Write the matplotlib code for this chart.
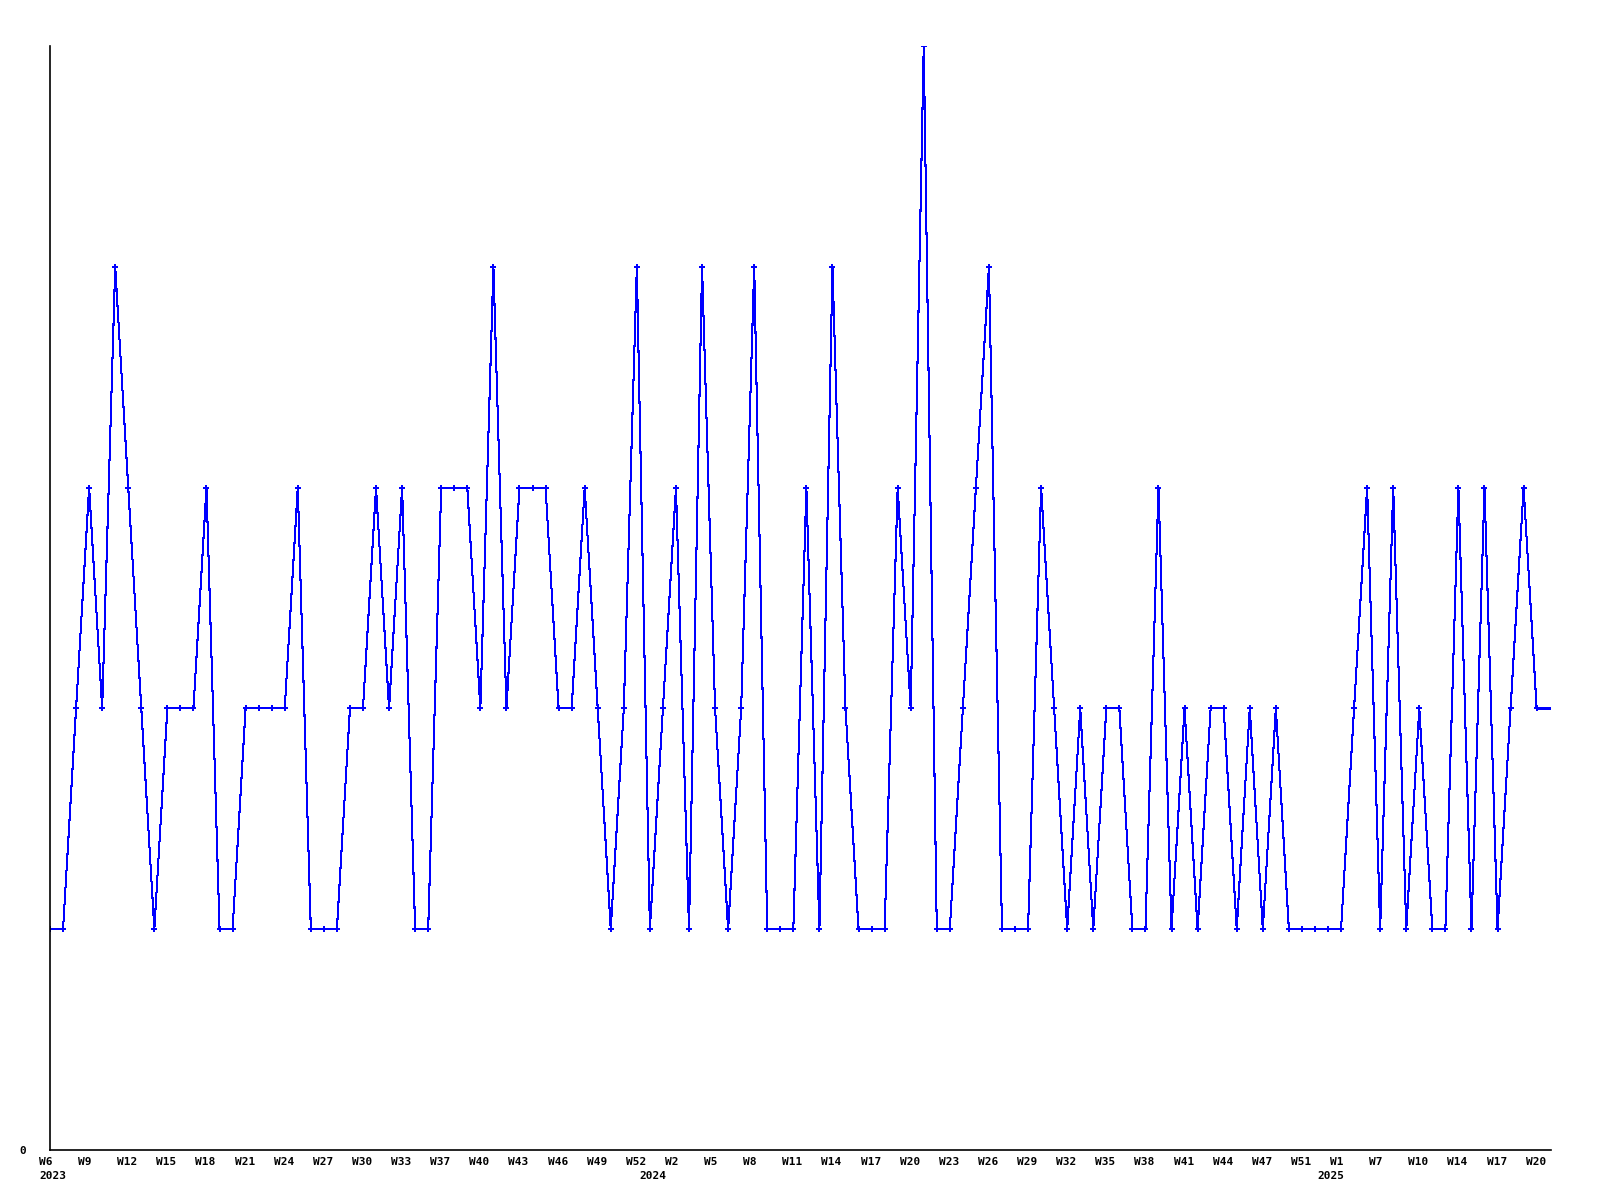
import numpy as np
import matplotlib
matplotlib.use("Agg")
import matplotlib.pyplot as plt
from matplotlib.transforms import blended_transform_factory, offset_copy

# weekly values, one per point (2023 W6 .. 2025 W21)
values = [1, 1, 2, 3, 2, 4, 3, 2, 1, 2, 2, 2, 3, 1, 1, 2, 2, 2, 2, 3,
          1, 1, 1, 2, 2, 3, 2, 3, 1, 1, 3, 3, 3, 2, 4, 2, 3, 3, 3, 2,
          2, 3, 2, 1, 2, 4, 1, 2, 3, 1, 4, 2, 1, 2, 4, 1, 1, 1, 3, 1,
          4, 2, 1, 1, 1, 3, 2, 5, 1, 1, 2, 3, 4, 1, 1, 1, 3, 2, 1, 2,
          1, 2, 2, 1, 1, 3, 1, 2, 1, 2, 2, 1, 2, 1, 2, 1, 1, 1, 1, 1,
          2, 3, 1, 3, 1, 2, 1, 1, 3, 1, 3, 1, 2, 3, 2]

# labels every third point
week_labels = ["W6", "W9", "W12", "W15", "W18", "W21", "W24", "W27", "W30", "W33",
               "W37", "W40", "W43", "W46", "W49", "W52", "W2", "W5", "W8", "W11",
               "W14", "W17", "W20", "W23", "W26", "W29", "W32", "W35", "W38", "W41",
               "W44", "W47", "W51", "W1", "W7", "W10", "W14", "W17", "W20"]
year_labels = ["2023", "2024", "2025"]
year_pos = [0, 46, 98]

x = np.arange(len(values))
x_end = len(values) + 0.1   # line runs on to the edge of the plot

fig = plt.figure(figsize=(16, 12), dpi=100)
ax = fig.add_axes([50/1600, 1 - 1150/1200, 1501/1600, 1104/1200])

blue = (0, 0, 1)
ax.plot(x, values, color=blue, lw=0.75, marker="P", ms=5, mew=0,
        antialiased=False)
ax.plot([x[-1], x_end], [values[-1], values[-1]], color=blue, lw=0.75,
        antialiased=False)

ax.set_xlim(0, x_end)
ax.set_ylim(0, 5)

for s in ["top", "right"]:
    ax.spines[s].set_visible(False)
for s in ["left", "bottom"]:
    ax.spines[s].set_linewidth(1.2)
    ax.spines[s].set_color("black")

ax.set_xticks([])
ax.set_yticks([0])
ax.set_yticklabels(["0"], fontfamily="DejaVu Sans Mono", fontweight="bold", fontsize=8)
ax.tick_params(axis="y", length=0, pad=17)

trans = blended_transform_factory(ax.transData, ax.transAxes)
wk_trans = offset_copy(trans, fig=fig, x=-11, y=-7, units="dots")
yr_trans = offset_copy(trans, fig=fig, x=-11, y=-21, units="dots")
font = dict(fontfamily="DejaVu Sans Mono", fontweight="bold", fontsize=8)

for i, lab in enumerate(week_labels):
    ax.text(x[i*3], 0, lab, transform=wk_trans, ha="left", va="top", **font)
for pos, lab in zip(year_pos, year_labels):
    ax.text(pos, 0, lab, transform=yr_trans, ha="left", va="top", **font)

fig.savefig("out.png", dpi=100)
